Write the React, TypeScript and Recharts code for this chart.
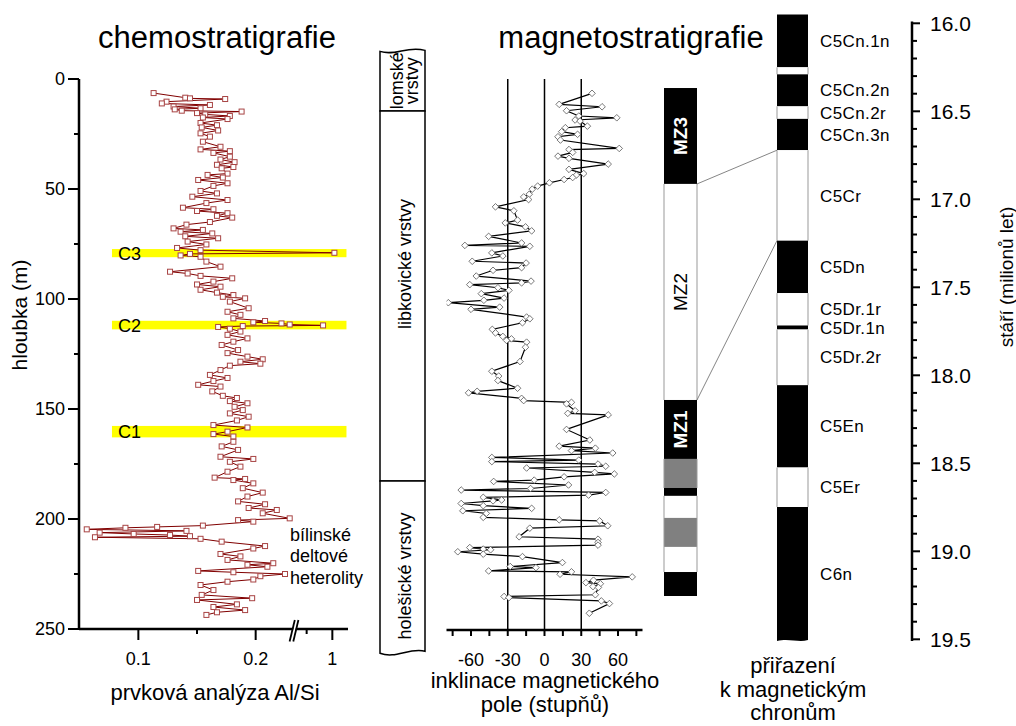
import React from 'react';
import { ComposedChart, Scatter, XAxis, YAxis, ReferenceArea, ReferenceLine, ReferenceDot } from 'recharts';

const FONT = '"Liberation Sans", Arial, Helvetica, sans-serif';

// ---------- chemostratigraphy (depth m, Al/Si) ----------
const chemoDepth = [
  6.4, 8.5, 8.8, 9.1, 10.3, 11.1, 11.8, 12.5, 13.3, 13.8,
  14.4, 14.8, 15.5, 16.1, 16.8, 17.5, 18.2, 20.0, 21.0, 22.0,
  23.4, 24.7, 26.2, 28.5, 30.8, 32.0, 32.8, 33.6, 35.3, 36.6,
  37.8, 39.0, 40.0, 40.6, 43.0, 43.6, 44.8, 45.9, 47.4, 48.6,
  50.9, 52.0, 53.5, 55.0, 56.4, 58.5, 59.2, 60.0, 61.0, 62.2,
  63.0, 65.0, 66.2, 67.9, 68.6, 69.4, 70.2, 71.5, 72.4, 73.9,
  75.2, 76.8, 77.8, 79.0, 79.5, 80.2, 80.8, 83.0, 85.3, 87.6,
  88.4, 89.5, 90.6, 92.1, 93.4, 94.4, 95.8, 97.1, 98.2, 99.0,
  99.7, 101.2, 104.2, 105.8, 107.2, 108.8, 110.0, 110.6, 111.1, 111.6,
  112.0, 112.3, 112.7, 113.5, 114.8, 116.3, 117.9, 119.4, 120.9, 123.2,
  124.6, 126.2, 127.4, 128.5, 129.4, 130.3, 132.3, 134.5, 135.9, 137.3,
  139.0, 139.8, 142.0, 144.0, 145.0, 146.4, 147.4, 149.0, 150.5, 152.0,
  153.5, 155.2, 157.3, 158.4, 160.3, 161.4, 162.5, 164.9, 167.0, 168.6,
  171.7, 172.7, 174.0, 176.2, 178.5, 181.2, 181.8, 182.3, 183.8, 186.0,
  188.0, 189.8, 192.0, 193.3, 195.0, 195.9, 197.4, 199.7, 200.5, 201.2,
  203.0, 203.6, 204.0, 204.7, 205.4, 206.2, 206.8, 207.3, 207.8, 208.3,
  209.0, 210.3, 212.3, 213.4, 215.9, 217.0, 218.6, 220.1, 220.8, 221.7,
  223.6, 224.2, 225.0, 226.0, 227.5, 228.5, 230.0, 232.3, 234.5, 236.0,
  236.8, 238.8, 240.0, 241.4, 242.4, 243.6,
];
const chemoAlSi = [
  0.113, 0.140, 0.144, 0.174, 0.124, 0.120, 0.161, 0.130, 0.153, 0.131,
  0.137, 0.188, 0.150, 0.157, 0.178, 0.155, 0.176, 0.153, 0.167, 0.154,
  0.168, 0.153, 0.161, 0.155, 0.170, 0.153, 0.178, 0.164, 0.178, 0.170,
  0.182, 0.167, 0.181, 0.171, 0.176, 0.159, 0.172, 0.151, 0.176, 0.164,
  0.153, 0.167, 0.146, 0.176, 0.158, 0.138, 0.164, 0.150, 0.176, 0.167,
  0.180, 0.161, 0.141, 0.130, 0.155, 0.136, 0.163, 0.140, 0.168, 0.142,
  0.158, 0.133, 0.153, 1.04, 0.144, 0.136, 0.153, 0.158, 0.170, 0.127,
  0.142, 0.153, 0.180, 0.164, 0.150, 0.170, 0.153, 0.167, 0.181, 0.172,
  0.191, 0.178, 0.194, 0.176, 0.187, 0.181, 0.208, 0.198, 0.222, 0.229,
  0.82, 0.189, 0.168, 0.178, 0.187, 0.176, 0.193, 0.181, 0.171, 0.185,
  0.176, 0.193, 0.206, 0.187, 0.204, 0.178, 0.170, 0.161, 0.176, 0.164,
  0.151, 0.170, 0.163, 0.172, 0.184, 0.178, 0.193, 0.182, 0.189, 0.178,
  0.194, 0.184, 0.164, 0.193, 0.176, 0.164, 0.181, 0.181, 0.171, 0.185,
  0.170, 0.198, 0.178, 0.187, 0.176, 0.165, 0.191, 0.181, 0.198, 0.189,
  0.206, 0.193, 0.185, 0.208, 0.194, 0.218, 0.206, 0.229, 0.185, 0.198,
  0.155, 0.116, 0.089, 0.056, 0.141, 0.067, 0.096, 0.127, 0.144, 0.063,
  0.153, 0.171, 0.208, 0.198, 0.170, 0.187, 0.176, 0.215, 0.193, 0.210,
  0.151, 0.181, 0.225, 0.204, 0.198, 0.176, 0.153, 0.164, 0.154, 0.197,
  0.150, 0.184, 0.164, 0.191, 0.167, 0.158,
];
const chemoBandNames = ['C3', 'C2', 'C1'];
const chemoBandTop = [77.3, 109.9, 157.7];
const chemoBandBottom = [81.0, 113.8, 162.9];
const chemoBandFrom = 0.0775;
const chemoBandTo = 1.275;
const chemoTickValues = [0.1, 0.15, 0.2, 0.5, 1];
const chemoTickLabels = ['0.1', '', '0.2', '', '1'];
const depthTicks = [0, 25, 50, 75, 100, 125, 150, 175, 200, 225, 250];
const depthTickLabels = ['0', '', '50', '', '100', '', '150', '', '200', '', '250'];

// broken Al/Si axis: linear up to the break, compressed above it
const BREAK_LO = 0.2325;
const BREAK_HI = 0.25;
const POST_SCALE = 0.0438;
const toU = (v: number) => (v <= BREAK_LO ? v : BREAK_LO + (Math.max(v, BREAK_HI) - BREAK_HI) * POST_SCALE);

// ---------- magnetostratigraphy (depth m, inclination deg) ----------
const magDepth = [
  6.5, 11.5, 12.6, 14.4, 16.8, 17.6, 18.6, 19.1, 21.4, 22.1,
  23.9, 25.1, 26.2, 27.7, 31.5, 32.0, 33.3, 35.0, 36.0, 38.6,
  41.0, 42.9, 43.6, 44.7, 45.6, 47.1, 48.6, 50.0, 52.3, 53.5,
  54.7, 58.0, 59.8, 64.0, 65.3, 67.1, 68.9, 71.4, 74.4, 75.5,
  75.9, 78.9, 80.3, 82.7, 83.5, 85.6, 86.8, 89.4, 91.7, 92.5,
  93.3, 94.7, 95.9, 97.4, 99.4, 100.4, 101.5, 103.5, 104.5, 108.0,
  108.8, 110.6, 113.6, 115.2, 116.8, 117.9, 118.6, 119.4, 121.7, 128.2,
  132.6, 134.8, 136.8, 140.3, 141.7, 142.4, 144.9, 145.9, 146.7, 147.4,
  150.5, 151.7, 152.4, 159.0, 163.8, 166.6, 167.5, 168.6, 169.7, 171.7,
  172.9, 173.6, 174.7, 175.7, 176.5, 178.5, 179.2, 180.5, 182.0, 182.6,
  184.2, 185.8, 186.5, 187.6, 188.8, 189.8, 191.0, 191.4, 192.6, 193.6,
  194.8, 195.9, 197.1, 198.9, 200.0, 200.5, 202.7, 203.8, 207.7, 208.8,
  210.3, 211.5, 212.6, 213.3, 213.6, 214.5, 215.6, 216.7, 219.4, 221.2,
  221.7, 223.2, 223.6, 224.7, 225.9, 227.4, 228.5, 229.0, 230.3, 230.7,
  234.0, 234.8, 235.3, 236.8, 238.0, 242.4,
];
const magIncl = [
  38.8, 12, 47, 18, 28, 59, 25, 29, 35, 17,
  14, 27, 11, 13, 61, 20, 23, 11, 20, 52,
  20, 32, 26, 23, 16, 4, -5.6, -10, -12.5, -17,
  -13, -40, -25, -22, -32, -15.5, -10.5, -45.6, -18.7, -65,
  -12, -43, -34, -59, -15, -18.7, -42, -55.7, -11, -18.7,
  -61, -38, -29, -51.6, -33, -49.5, -78.5, -36.6, -60, -14.6,
  -12, -18, -42.6, -40, -34, -27, -31, -14.6, -15.5, -20,
  -43, -37.4, -38, -22, -55, -62, -18.7, -17, 22, 18,
  25, 19, 52, 18, 37, 12, 41.5, 22, 55.7, -43,
  28, -43, 43.7, 50, -14.6, 41, 57, 16, -8.4, -41.5,
  19.6, -11.4, -68, 50, 36, -50, -35, -42, -68, -50,
  -10.5, -66.7, -47.5, -50, 12, 45, 51.6, -12, -20.7, 43.7,
  43.7, 43.7, -61, -50, -44, -70.8, -50, -18, 14.6, -28,
  -7, -45.6, 22, 12.7, 71.6, 40, 33.8, 45.6, 39.6, 44,
  41.5, -33, -29, 46.4, 53, 36.6,
];
const magTicks = [-75, -60, -45, -30, -15, 0, 15, 30, 45, 60, 75];
const magTickLabels = ['', '-60', '', '-30', '', '0', '', '30', '', '60', ''];
const magGuides = [-30, 0, 30];

// ---------- lithostratigraphy (depth m) ----------
const lithoNames = [['lomské', 'vrstvy'], ['libkovické vrstvy'], ['holešické vrstvy']];
const lithoBounds = [-13, 14.5, 182.7, 261];

// ---------- magnetozones (depth m) ----------
const mzBounds = [4.1, 47.7, 145.9, 172.7, 185.9, 189.5, 199.5, 212.7, 224.1, 235.0];
const mzPolarity = ['N', 'R', 'N', 'U', 'N', 'R', 'U', 'R', 'N'];
const mzNames = ['MZ3', 'MZ2', 'MZ1', '', '', '', '', '', ''];

// ---------- geomagnetic polarity time scale (Ma) ----------
const chronBounds = [15.95, 16.25, 16.29, 16.472, 16.543, 16.721, 17.235, 17.533, 17.717, 17.74, 18.056, 18.524, 18.748, 19.51];
const chronPolarity = ['N', 'R', 'N', 'R', 'N', 'R', 'N', 'R', 'N', 'R', 'N', 'R', 'N'];
const chronNames = ['C5Cn.1n', '', 'C5Cn.2n', 'C5Cn.2r', 'C5Cn.3n', 'C5Cr', 'C5Dn', 'C5Dr.1r', 'C5Dr.1n', 'C5Dr.2r', 'C5En', 'C5Er', 'C6n'];
const ageTicks = [
  16.0, 16.1, 16.2, 16.3, 16.4, 16.5, 16.6, 16.7, 16.8, 16.9,
  17.0, 17.1, 17.2, 17.3, 17.4, 17.5, 17.6, 17.7, 17.8, 17.9,
  18.0, 18.1, 18.2, 18.3, 18.4, 18.5, 18.6, 18.7, 18.8, 18.9,
  19.0, 19.1, 19.2, 19.3, 19.4, 19.5,
];
const ageMajorLabels = ['16.0', '16.5', '17.0', '17.5', '18.0', '18.5', '19.0', '19.5'];

// correlation MZ boundary (depth) <-> chron boundary (age)
const corrDepth = [47.7, 145.9];
const corrAge = [16.721, 17.235];

// ---------- layout helpers ----------
const DEPTH_Y0 = 79; // pixel of 0 m
const DEPTH_PX = 2.2; // px per m
const AGE_Y16 = 23.3; // pixel of 16.0 Ma
const AGE_PX = 176; // px per Ma
const ageToY = (a: number) => AGE_Y16 + (a - 16) * AGE_PX;
const yToDepth = (y: number) => (y - DEPTH_Y0) / DEPTH_PX;
const AGE_DOMAIN = [15.99, 19.51];
const RIGHT_TOP = ageToY(AGE_DOMAIN[0]);
const RIGHT_BOTTOM = ageToY(AGE_DOMAIN[1]);
const RIGHT_DEPTH_DOMAIN = [yToDepth(RIGHT_TOP), yToDepth(RIGHT_BOTTOM)];
const ageToDepth = (a: number) => yToDepth(ageToY(a));
const MZ_COL = [0, 33];
const CHRON_COL = [113, 144];
const LITHO_TOP = 48;
const LITHO_BOTTOM = 656;
const LITHO_DOMAIN = [yToDepth(LITHO_TOP), yToDepth(LITHO_BOTTOM)];
const LITHO_LABEL_SHIFT = [0, -32, 9];

const chemoData = chemoDepth.map((d, i) => ({ depth: d, alsi: chemoAlSi[i], u: toU(chemoAlSi[i]) }));
const magData = magDepth.map((d, i) => ({ depth: d, incl: magIncl[i] }));
// anchor points so that the column charts' axes are fed with data
const lithoAnchors = lithoBounds.map((b) => ({ col: 0.5, depth: b }));
const mzAnchors = mzBounds.map((b) => ({ col: MZ_COL[0], depth: b }));
const chronAnchors = chronBounds.map((b) => ({ col: CHRON_COL[0], age: b }));

const axisLine = { stroke: '#000', strokeWidth: 2.5 };
const Nothing = () => <g />;

// ---------- shapes & ticks ----------
const SquareDot = (p: any) => {
  const { cx, cy } = p;
  if (cx == null || cy == null) return <g />;
  return <rect x={cx - 2.5} y={cy - 2.5} width={5} height={5} fill="#fff" stroke="#a84444" strokeWidth={1} />;
};
const DiamondDot = (p: any) => {
  const { cx, cy } = p;
  if (cx == null || cy == null) return <g />;
  return <path d={`M${cx},${cy - 3.3} L${cx + 3.3},${cy} L${cx},${cy + 3.3} L${cx - 3.3},${cy} Z`} fill="#fff" stroke="#555" strokeWidth={0.8} />;
};

const DepthTick = (p: any) => {
  const { x, y, payload } = p;
  const i = depthTicks.indexOf(payload.value);
  const lab = i >= 0 ? depthTickLabels[i] : '';
  const len = lab ? 11 : 5;
  return (
    <g>
      <line x1={x} x2={x - len} y1={y} y2={y} stroke="#000" strokeWidth={2} />
      {lab && (
        <text x={x - 14} y={y} dy="0.36em" textAnchor="end" fontSize={18} fontFamily={FONT} fill="#000">{lab}</text>
      )}
    </g>
  );
};

const ChemoXTick = (p: any) => {
  const { x, y, payload } = p;
  const i = chemoTickValues.findIndex((v) => Math.abs(toU(v) - payload.value) < 1e-7);
  const lab = i >= 0 ? chemoTickLabels[i] : '';
  const len = lab ? 11 : 5;
  return (
    <g>
      <line x1={x} x2={x} y1={y} y2={y + len} stroke="#000" strokeWidth={2} />
      {lab && (
        <text x={x} y={y + 36} textAnchor="middle" fontSize={18} fontFamily={FONT} fill="#000">{lab}</text>
      )}
    </g>
  );
};

const MagXTick = (p: any) => {
  const { x, y, payload } = p;
  const i = magTicks.indexOf(payload.value);
  const lab = i >= 0 ? magTickLabels[i] : '';
  return (
    <g>
      <line x1={x} x2={x} y1={y} y2={y + 6} stroke="#000" strokeWidth={2} />
      {lab && (
        <text x={x} y={y + 36} textAnchor="middle" fontSize={18} fontFamily={FONT} fill="#000">{lab}</text>
      )}
    </g>
  );
};

const AgeTick = (p: any) => {
  const { x, y, payload } = p;
  const lab = ageMajorLabels.find((s) => Math.abs(parseFloat(s) - payload.value) < 1e-6) || '';
  return (
    <g>
      <line x1={x} x2={x + (lab ? 8 : 5)} y1={y} y2={y} stroke="#000" strokeWidth={2} />
      {lab && (
        <text x={x + 18} y={y} dy="0.36em" fontSize={21} fontFamily={FONT} fill="#000">{lab}</text>
      )}
    </g>
  );
};

const BreakMark = (p: any) => {
  const { cx, cy } = p;
  if (cx == null || cy == null) return <g />;
  return (
    <g>
      <polygon points={`${cx - 3.2},${cy + 12} ${cx + 1.6},${cy - 9} ${cx + 3.9},${cy - 9} ${cx - 0.9},${cy + 12}`} fill="#fff" />
      <line x1={cx - 4.2} y1={cy + 12.5} x2={cx + 1} y2={cy - 9} stroke="#000" strokeWidth={1.8} />
      <line x1={cx - 0.5} y1={cy + 12.5} x2={cx + 4.6} y2={cy - 9} stroke="#000" strokeWidth={1.8} />
    </g>
  );
};

const bandShape = (name: string) => (p: any) => {
  const { x, y, width, height } = p;
  return (
    <g>
      <rect x={x} y={y} width={width} height={height} fill="#ffff00" />
      <text x={x + 6} y={y + height / 2} dy="0.36em" fontSize={18} fontFamily={FONT} fill="#000">{name}</text>
    </g>
  );
};

const lithoShape = (idx: number) => (p: any) => {
  const { x, y, width: w, height: h } = p;
  const first = idx === 0;
  const last = idx === lithoNames.length - 1;
  const top = first
    ? `M${x},${y + 1} C${x + w * 0.35},${y + 6} ${x + w * 0.6},${y - 5} ${x + w},${y}`
    : `M${x},${y} L${x + w},${y}`;
  const yb = y + h;
  const bottom = last
    ? `L${x + w},${yb - 2} C${x + w * 0.65},${yb - 6} ${x + w * 0.35},${yb + 6} ${x},${yb}`
    : `L${x + w},${yb} L${x},${yb}`;
  const lines = lithoNames[idx];
  const cy = y + h / 2 + LITHO_LABEL_SHIFT[idx];
  return (
    <g>
      <path d={`${top} ${bottom} Z`} fill="#fff" stroke="#000" strokeWidth={1.5} />
      {lines.length === 2 ? (
        <>
          <text transform={`translate(${x + 23},${cy}) rotate(-90)`} textAnchor="middle" fontSize={18} fontFamily={FONT} fill="#000">{lines[0]}</text>
          <text transform={`translate(${x + 38},${cy}) rotate(-90)`} textAnchor="middle" fontSize={18} fontFamily={FONT} fill="#000">{lines[1]}</text>
        </>
      ) : (
        <text transform={`translate(${x + 31},${cy}) rotate(-90)`} textAnchor="middle" fontSize={18} fontFamily={FONT} fill="#000">{lines[0]}</text>
      )}
    </g>
  );
};

const polColor = (p: string) => (p === 'N' ? '#000' : p === 'U' ? '#808080' : '#fff');

const mzShape = (idx: number) => (p: any) => {
  const { x, y, width: w, height: h } = p;
  const pol = mzPolarity[idx];
  const name = mzNames[idx];
  const dark = pol === 'N';
  return (
    <g>
      <rect x={x} y={y} width={w} height={h} fill={polColor(pol)} />
      {!dark && (
        <>
          <line x1={x} x2={x} y1={y} y2={y + h} stroke="#999" strokeWidth={1} />
          <line x1={x + w} x2={x + w} y1={y} y2={y + h} stroke="#999" strokeWidth={1} />
        </>
      )}
      {name && (
        <text transform={`translate(${x + w / 2 + 6.5},${y + h / 2}) rotate(-90)`} textAnchor="middle" fontSize={19}
          fontWeight={dark ? 'bold' : 'normal'} fontFamily={FONT} fill={dark ? '#fff' : '#000'}>{name}</text>
      )}
    </g>
  );
};

const chronShape = (idx: number) => (p: any) => {
  const { x, y, width: w, height: h } = p;
  const pol = chronPolarity[idx];
  const name = chronNames[idx];
  const last = idx === chronNames.length - 1;
  const yb = y + h;
  return (
    <g>
      {last ? (
        <path d={`M${x},${y} L${x + w},${y} L${x + w},${yb - 1} C${x + w * 0.7},${yb + 2} ${x + w * 0.4},${yb - 3} ${x},${yb} Z`} fill={polColor(pol)} />
      ) : (
        <rect x={x} y={y} width={w} height={h} fill={polColor(pol)} />
      )}
      {pol !== 'N' && (
        <>
          <line x1={x} x2={x} y1={y} y2={yb} stroke="#999" strokeWidth={1} />
          <line x1={x + w} x2={x + w} y1={y} y2={yb} stroke="#999" strokeWidth={1} />
        </>
      )}
      {name && (
        <text x={x + w + 12} y={y + h / 2} dy="0.36em" fontSize={17} letterSpacing={0.4} fontFamily={FONT} fill="#000">{name}</text>
      )}
    </g>
  );
};

const T = (props: any) => <text fontFamily={FONT} fill="#000" {...props} />;

export default function App() {
  return (
    <div style={{ position: 'absolute', left: 0, top: 0, width: 1016, height: 726, background: '#fff', overflow: 'hidden', fontFamily: FONT }}>
      {/* chemostratigraphy */}
      <div style={{ position: 'absolute', left: 0, top: 0 }}>
        <ComposedChart width={360} height={726} margin={{ top: 79, right: 12, bottom: 57, left: 19 }}>
          {chemoBandNames.map((n, i) => (
            <ReferenceArea key={n} x1={toU(chemoBandFrom)} x2={toU(chemoBandTo)} y1={chemoBandTop[i]} y2={chemoBandBottom[i]}
              ifOverflow="visible" shape={bandShape(n)} />
          ))}
          <XAxis type="number" dataKey="u" domain={[0.0494, 0.2787]} allowDataOverflow ticks={chemoTickValues.map(toU)} interval={0}
            tick={<ChemoXTick />} tickSize={0} tickMargin={0} tickLine={false} axisLine={axisLine} height={40} />
          <YAxis type="number" dataKey="depth" domain={[0, 250]} reversed allowDataOverflow ticks={depthTicks} interval={0}
            tick={<DepthTick />} tickSize={0} tickMargin={0} tickLine={false} axisLine={axisLine} width={60} />
          <Scatter data={chemoData} shape={SquareDot} line={{ stroke: '#800000', strokeWidth: 1 }} lineType="joint" isAnimationActive={false} />
          <ReferenceDot x={BREAK_LO} y={250} ifOverflow="visible" shape={BreakMark} />
        </ComposedChart>
      </div>

      {/* lithology */}
      <div style={{ position: 'absolute', left: 370, top: 0 }}>
        <ComposedChart width={70} height={726} margin={{ top: LITHO_TOP, right: 15, bottom: 726 - LITHO_BOTTOM, left: 10 }}>
          <XAxis type="number" dataKey="col" domain={[0, 1]} hide allowDataOverflow />
          <YAxis type="number" dataKey="depth" domain={LITHO_DOMAIN} reversed hide allowDataOverflow />
          <Scatter data={lithoAnchors} shape={Nothing} isAnimationActive={false} />
          {lithoNames.map((n, i) => (
            <ReferenceArea key={i} x1={0} x2={1} y1={lithoBounds[i]} y2={lithoBounds[i + 1]} ifOverflow="visible" shape={lithoShape(i)} />
          ))}
        </ComposedChart>
      </div>

      {/* magnetostratigraphy */}
      <div style={{ position: 'absolute', left: 430, top: 0 }}>
        <ComposedChart width={230} height={726} margin={{ top: 79, right: 17.5, bottom: 66, left: 16.5 }}>
          <XAxis type="number" dataKey="incl" domain={[-80, 80]} allowDataOverflow ticks={magTicks} interval={0}
            tick={<MagXTick />} tickSize={0} tickMargin={0} tickLine={false} axisLine={axisLine} height={30} />
          <YAxis type="number" dataKey="depth" domain={[0, 250]} reversed hide allowDataOverflow />
          {magGuides.map((g) => (
            <ReferenceLine key={g} x={g} stroke="#000" strokeWidth={1.5} />
          ))}
          <Scatter data={magData} shape={DiamondDot} line={{ stroke: '#000', strokeWidth: 1.2 }} lineType="joint" isAnimationActive={false} />
        </ComposedChart>
      </div>

      {/* magnetozones, chrons, age axis */}
      <div style={{ position: 'absolute', left: 650, top: 0 }}>
        <ComposedChart width={366} height={726} margin={{ top: RIGHT_TOP, right: 34, bottom: 726 - RIGHT_BOTTOM, left: 14 }}>
          <XAxis type="number" dataKey="col" domain={[0, 248]} hide allowDataOverflow />
          <YAxis yAxisId="age" dataKey="age" orientation="right" type="number" domain={AGE_DOMAIN} reversed allowDataOverflow ticks={ageTicks} interval={0}
            tick={<AgeTick />} tickSize={0} tickMargin={0} tickLine={false} axisLine={axisLine} width={70} />
          <YAxis yAxisId="depth" dataKey="depth" type="number" domain={RIGHT_DEPTH_DOMAIN} reversed hide allowDataOverflow />
          <Scatter yAxisId="depth" data={mzAnchors} shape={Nothing} isAnimationActive={false} />
          <Scatter yAxisId="age" data={chronAnchors} shape={Nothing} isAnimationActive={false} />
          {mzPolarity.map((pol, i) => (
            <ReferenceArea key={'mz' + i} yAxisId="depth" x1={MZ_COL[0]} x2={MZ_COL[1]} y1={mzBounds[i]} y2={mzBounds[i + 1]}
              ifOverflow="visible" shape={mzShape(i)} />
          ))}
          {chronPolarity.map((pol, i) => (
            <ReferenceArea key={'ch' + i} yAxisId="age" x1={CHRON_COL[0]} x2={CHRON_COL[1]} y1={chronBounds[i]} y2={chronBounds[i + 1]}
              ifOverflow="visible" shape={chronShape(i)} />
          ))}
          {corrDepth.map((d, i) => (
            <ReferenceLine key={'c' + i} yAxisId="depth" ifOverflow="visible" stroke="#666" strokeWidth={0.8}
              segment={[{ x: MZ_COL[1], y: d }, { x: CHRON_COL[0], y: ageToDepth(corrAge[i]) }]} />
          ))}
        </ComposedChart>
      </div>

      {/* free text */}
      <svg width={1016} height={726} style={{ position: 'absolute', left: 0, top: 0, pointerEvents: 'none' }}>
        <T x={217} y={48} fontSize={31} textAnchor="middle">chemostratigrafie</T>
        <T x={631} y={48} fontSize={31} textAnchor="middle">magnetostratigrafie</T>
        <T transform="translate(27,315) rotate(-90)" fontSize={21} textAnchor="middle">hloubka (m)</T>
        <T x={215} y={700} fontSize={22} textAnchor="middle">prvková analýza Al/Si</T>
        <T x={290} y={541} fontSize={18}>bílinské</T>
        <T x={290} y={562} fontSize={18}>deltové</T>
        <T x={290} y={584} fontSize={18}>heterolity</T>
        <T x={545} y={688} fontSize={22} textAnchor="middle">inklinace magnetického</T>
        <T x={545} y={712} fontSize={22} textAnchor="middle">pole (stupňů)</T>
        <T x={793} y={673} fontSize={22} textAnchor="middle">přiřazení</T>
        <T x={793} y={697} fontSize={22} textAnchor="middle">k magnetickým</T>
        <T x={793} y={720} fontSize={22} textAnchor="middle">chronům</T>
        <T transform="translate(1013,277) rotate(-90)" fontSize={19} textAnchor="middle">stáří (milionů let)</T>
      </svg>
    </div>
  );
}
